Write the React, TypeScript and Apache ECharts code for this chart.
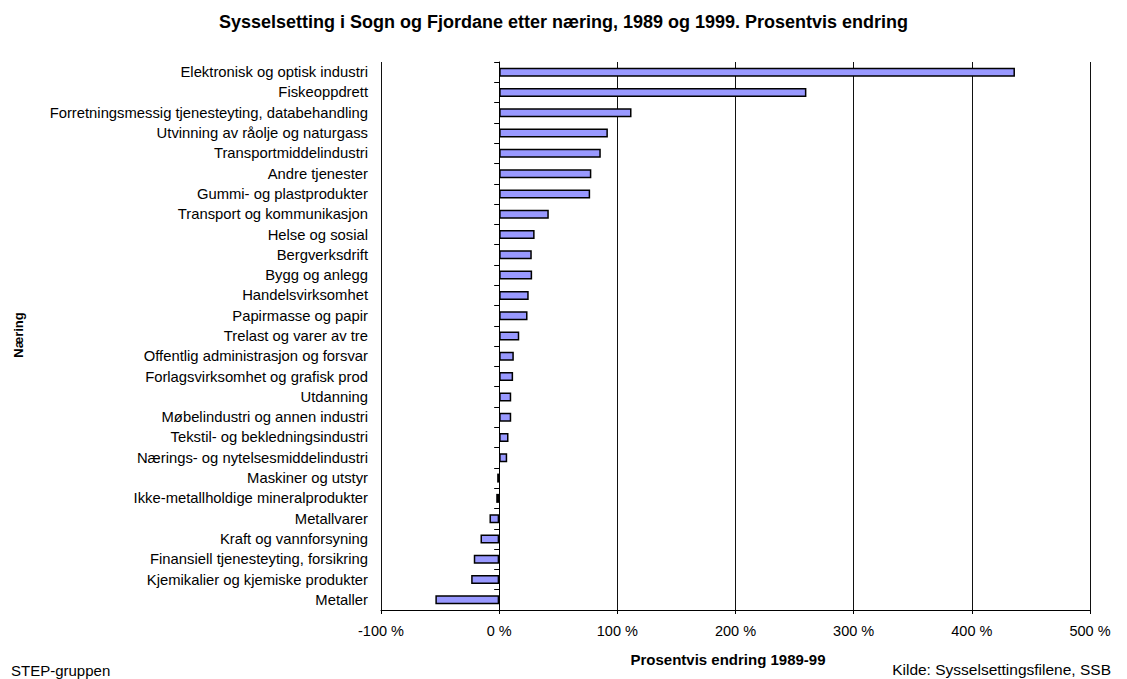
import React, { useEffect, useRef } from "react";
import * as echarts from "echarts";

const categories: string[] = [
  "Elektronisk og optisk industri",
  "Fiskeoppdrett",
  "Forretningsmessig tjenesteyting, databehandling",
  "Utvinning av råolje og naturgass",
  "Transportmiddelindustri",
  "Andre tjenester",
  "Gummi- og plastprodukter",
  "Transport og kommunikasjon",
  "Helse og sosial",
  "Bergverksdrift",
  "Bygg og anlegg",
  "Handelsvirksomhet",
  "Papirmasse og papir",
  "Trelast og varer av tre",
  "Offentlig administrasjon og forsvar",
  "Forlagsvirksomhet og grafisk prod",
  "Utdanning",
  "Møbelindustri og annen industri",
  "Tekstil- og bekledningsindustri",
  "Nærings- og nytelsesmiddelindustri",
  "Maskiner og utstyr",
  "Ikke-metallholdige mineralprodukter",
  "Metallvarer",
  "Kraft og vannforsyning",
  "Finansiell tjenesteyting, forsikring",
  "Kjemikalier og kjemiske produkter",
  "Metaller",
];

const changePct: number[] = [
  436.5, 260, 112, 92, 86, 78, 77, 42, 30, 27.6, 27.9, 25, 24, 17, 12.4, 11.8,
  10.2, 10.2, 7.9, 6.8, -1.7, -2.5, -8.2, -15.8, -21.5, -23.7, -54,
];

const titleText =
  "Sysselsetting i Sogn og Fjordane etter næring, 1989 og 1999. Prosentvis endring";
const xAxisName = "Prosentvis endring 1989-99";
const yAxisName = "Næring";
const leftNote = "STEP-gruppen";
const rightNote = "Kilde: Sysselsettingsfilene, SSB";

const FONT = "'Liberation Sans', Arial, sans-serif";

export default function App() {
  const ref = useRef<HTMLDivElement>(null);
  useEffect(() => {
    if (!ref.current) return;
    const chart = echarts.init(ref.current, undefined, { renderer: "svg" });
    chart.setOption({
      animation: false,
      backgroundColor: "#ffffff",
      textStyle: { fontFamily: FONT },
      title: {
        text: titleText,
        left: "center",
        top: 8,
        textStyle: {
          fontFamily: FONT,
          fontSize: 18,
          fontWeight: "bold",
          color: "#000",
        },
      },
      grid: { left: 381, right: 37, top: 62, bottom: 69, containLabel: false },
      xAxis: {
        type: "value",
        min: -100,
        max: 500,
        interval: 100,
        axisLine: { show: true, onZero: false, lineStyle: { color: "#000", width: 1 } },
        axisTick: { show: true, length: 4, lineStyle: { color: "#000" } },
        axisLabel: {
          formatter: "{value} %",
          fontFamily: FONT,
          fontSize: 14.5,
          color: "#000",
          margin: 13,
        },
        splitLine: { show: true, lineStyle: { color: "#111", width: 1 } },
      },
      yAxis: [
        {
          type: "category",
          data: categories,
          inverse: true,
          position: "left",
          axisLine: { show: false, onZero: false },
          axisTick: { show: false },
          axisLabel: {
            fontFamily: FONT,
            fontSize: 14.8,
            color: "#000",
            margin: 13,
          },
          splitLine: { show: false },
        },
        {
          type: "category",
          data: categories,
          inverse: true,
          position: "left",
          axisLine: { show: true, onZero: true, lineStyle: { color: "#000", width: 1 } },
          axisTick: { show: true, length: 5, lineStyle: { color: "#000" } },
          axisLabel: { show: false },
          splitLine: { show: false },
        },
      ],
      series: [
        {
          type: "bar",
          data: changePct,
          yAxisIndex: 0,
          barWidth: 9,
          itemStyle: { color: "#9999FF", borderColor: "#000", borderWidth: 1.5 },
        },
      ],
      graphic: [
        {
          type: "text",
          x: 18,
          y: 335,
          rotation: Math.PI / 2,
          style: {
            text: yAxisName,
            fontFamily: FONT,
            fontSize: 13,
            fontWeight: "bold",
            fill: "#000",
            align: "center",
            verticalAlign: "middle",
          },
        },
        {
          type: "text",
          x: 728,
          y: 659,
          style: {
            text: xAxisName,
            fontFamily: FONT,
            fontSize: 15,
            fontWeight: "bold",
            fill: "#000",
            align: "center",
            verticalAlign: "middle",
          },
        },
        {
          type: "text",
          x: 11,
          y: 670,
          style: {
            text: leftNote,
            fontFamily: FONT,
            fontSize: 15,
            fill: "#000",
            align: "left",
            verticalAlign: "middle",
          },
        },
        {
          type: "text",
          x: 1111,
          y: 669,
          style: {
            text: rightNote,
            fontFamily: FONT,
            fontSize: 15.5,
            fill: "#000",
            align: "right",
            verticalAlign: "middle",
          },
        },
      ],
    });
    return () => chart.dispose();
  }, []);
  return (
    <div
      ref={ref}
      style={{ position: "absolute", left: 0, top: 0, width: 1127, height: 679 }}
    />
  );
}
